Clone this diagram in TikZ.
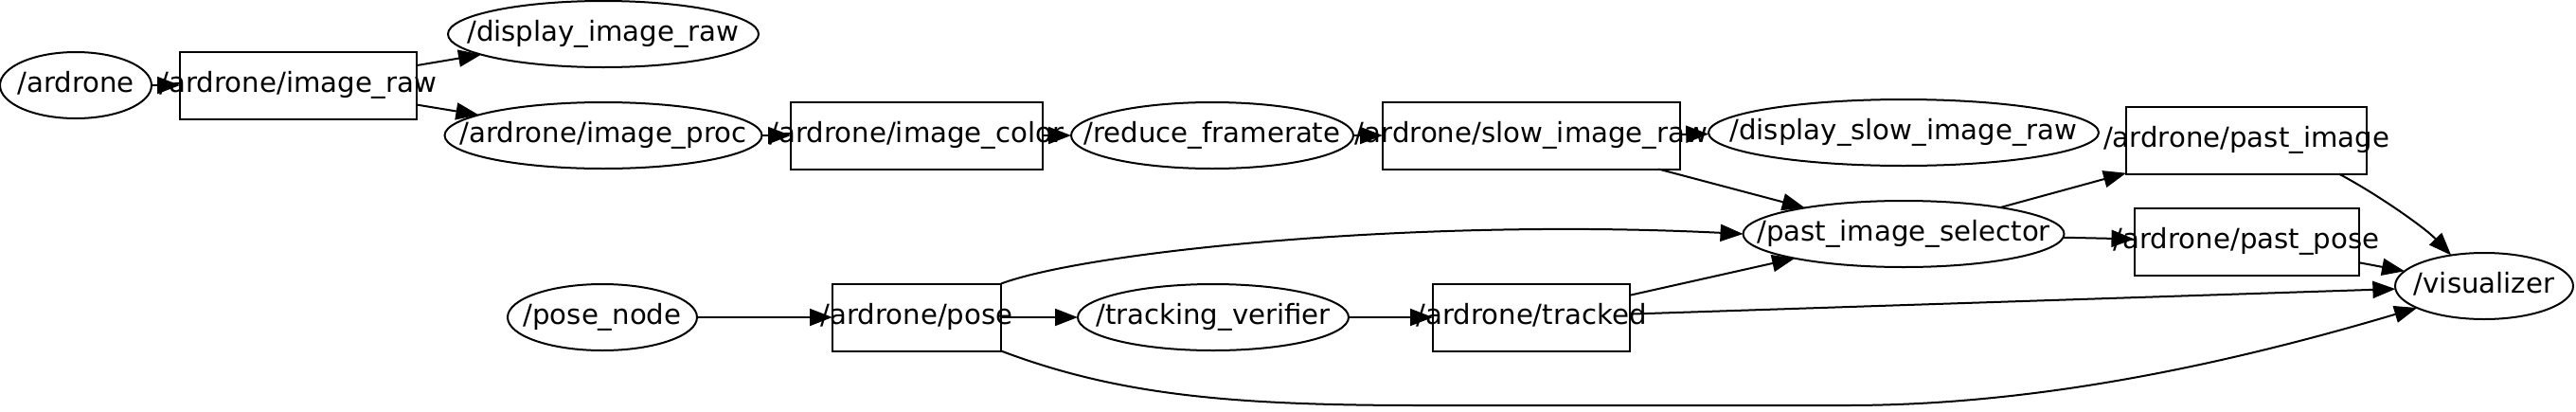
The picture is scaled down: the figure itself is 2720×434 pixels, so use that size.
\documentclass[tikz,border=0pt]{standalone}
\usepackage{fontspec}
\setmainfont{DejaVu Sans}
\usetikzlibrary{shapes.geometric,arrows.meta}
\newcommand\ntext[1]{\makebox[0pt]{\raisebox{-2.2pt}{\vphantom{/dg\_}#1}}}
\begin{document}
\begin{tikzpicture}[x=0.5pt,y=-0.5pt,
  box/.style={draw, line width=1pt, inner sep=0pt, outer sep=0pt,
    font=\fontsize{14.6pt}{17pt}\selectfont},
  topic/.style={box, rectangle, minimum height=35.5pt},
  rosnode/.style={box, ellipse, minimum height=35pt},
  edge/.style={line width=1pt, -{Triangle[length=12pt,width=9pt]}}]
\useasboundingbox (0,0) rectangle (2720,434);
% nodes
\node[rosnode, minimum width=80pt]    (ardrone)  at (80,90)    {\ntext{/ardrone}};
\node[topic,   minimum width=125pt]   (iraw)     at (315,90)   {\ntext{/ardrone/image\_raw}};
\node[rosnode, minimum width=164pt]   (dispraw)  at (637,36)   {\ntext{/display\_image\_raw}};
\node[rosnode, minimum width=167.5pt] (iproc)    at (637,143)  {\ntext{/ardrone/image\_proc}};
\node[topic,   minimum width=133pt]   (icolor)   at (968,143)  {\ntext{/ardrone/image\_color}};
\node[rosnode, minimum width=149pt]   (reduce)   at (1280,143) {\ntext{/reduce\_framerate}};
\node[topic,   minimum width=157pt]   (slow)     at (1617,143) {\ntext{/ardrone/slow\_image\_raw}};
\node[rosnode, minimum width=206pt]   (dispslow) at (2010,140) {\ntext{/display\_slow\_image\_raw}};
\node[topic,   minimum width=127pt]   (pimg)     at (2372,148) {\ntext{/ardrone/past\_image}};
\node[rosnode, minimum width=169.5pt] (sel)      at (2010,247) {\ntext{/past\_image\_selector}};
\node[topic,   minimum width=118.5pt] (ppose)    at (2372,255) {\ntext{/ardrone/past\_pose}};
\node[rosnode, minimum width=94pt]    (vis)      at (2623,302) {\ntext{/visualizer}};
\node[rosnode, minimum width=100pt]   (posenode) at (636,335)  {\ntext{/pose\_node}};
\node[topic,   minimum width=89pt]    (pose)     at (968,335)  {\ntext{/ardrone/pose}};
\node[rosnode, minimum width=143pt]   (tverif)   at (1281,335) {\ntext{/tracking\_verifier}};
\node[topic,   minimum width=104pt]   (tracked)  at (1617,335) {\ntext{/ardrone/tracked}};
% edges
\draw[edge] (ardrone) -- (iraw);
\draw[edge] (iraw) -- (dispraw);
\draw[edge] (iraw) -- (iproc);
\draw[edge] (iproc) -- (icolor);
\draw[edge] (icolor) -- (reduce);
\draw[edge] (reduce) -- (slow);
\draw[edge] (slow) -- (dispslow);
\draw[edge] (slow) -- (sel);
\draw[edge] (posenode) -- (pose);
\draw[edge] (pose) -- (tverif);
\draw[edge] (tverif) -- (tracked);
\draw[edge] (pose.north east) .. controls (1150,265) and (1500,230) .. (sel.west);
\draw[edge] (tracked) -- (sel);
\draw[edge] (tracked) -- (vis);
\draw[edge] (sel) -- (pimg);
\draw[edge] (sel) -- (ppose);
\draw[edge] (pimg.-20) .. controls (2510,205) and (2560,240) .. (vis.137);
\draw[edge] (ppose) -- (vis);
\draw[edge] (pose.south east) .. controls (1180,417) and (1300,428) .. (1500,428)
  -- (1950,428) .. controls (2150,428) and (2350,385) .. (vis.198);
\end{tikzpicture}
\end{document}
